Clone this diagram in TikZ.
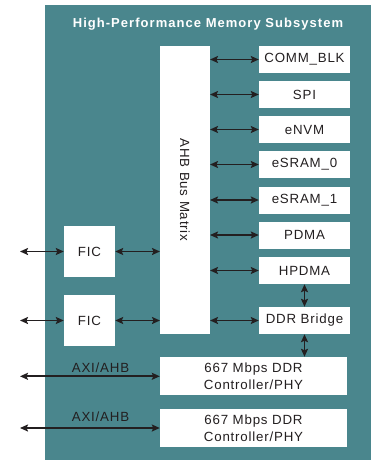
\documentclass[tikz,border=0pt]{standalone}
\usepackage{fontspec}
\setmainfont{Liberation Sans}[LetterSpace=6]
\newfontfamily\titlefont{Liberation Sans}[LetterSpace=8]
\usetikzlibrary{arrows.meta}
\definecolor{teal}{RGB}{74,134,141}
\definecolor{ink}{RGB}{35,31,32}
\begin{document}
\begin{tikzpicture}[x=1pt,y=-1pt,
  blk/.style={fill=white,draw=none,inner sep=0pt,text=ink,font=\fontsize{13.3}{16.5}\selectfont,align=center},
  link/.style={draw=ink,line width=1.7pt,{Stealth[length=8pt,width=7pt,inset=1.5pt]}-{Stealth[length=8pt,width=7pt,inset=1.5pt]}},
  lbl/.style={text=ink,font=\fontsize{13.3}{16}\selectfont,inner sep=0pt}]
\useasboundingbox (0,0) rectangle (374,460);
\fill[teal] (45,5) rectangle (371,460);
\node[text=white,font=\titlefont\bfseries\fontsize{13}{14}\selectfont] (title) at (208,24.5) {High-Performance Memory Subsystem};
% bus matrix
\node[blk,minimum width=50pt,minimum height=288pt] (bus) at (185,190) {};
\node[lbl,rotate=-90] (buslbl) at (bus.center) {AHB Bus Matrix};
% right blocks
\foreach \n/\t/\y in {comm/COMM\_BLK/59.5, spi/SPI/94.5, envm/eNVM/129.5, sram0/eSRAM\_0/164.5, sram1/eSRAM\_1/200, pdma/PDMA/235, hpdma/HPDMA/270.5, ddrb/DDR Bridge/320.5}{
  \node[blk,minimum width=91pt,minimum height=27pt] (\n) at (304.5,\y) {\t};
  \coordinate (b\n) at (210,\y);
  \draw[link] (b\n) -- (\n.west);
}
% FIC blocks
\node[blk,minimum width=51pt,minimum height=51pt] (fic1) at (89.5,251.5) {FIC};
\node[blk,minimum width=51pt,minimum height=51pt] (fic2) at (89.5,320.5) {FIC};
\coordinate (f1l) at (20,251.5);
\coordinate (f1r) at (160,251.5);
\coordinate (f2l) at (20,320.5);
\coordinate (f2r) at (160,320.5);
\draw[link] (f1l) -- (fic1.west);
\draw[link] (fic1.east) -- (f1r);
\draw[link] (f2l) -- (fic2.west);
\draw[link] (fic2.east) -- (f2r);
% DDR controllers
\node[blk,minimum width=187pt,minimum height=38pt] (ddr1) at (253.5,376) {667 Mbps DDR\\Controller/PHY};
\node[blk,minimum width=187pt,minimum height=38pt] (ddr2) at (253.5,428) {667 Mbps DDR\\Controller/PHY};
\coordinate (a1) at (20,376.3);
\coordinate (a2) at (20,428);
\draw[link] (a1) -- (a1 -| ddr1.west);
\draw[link] (a2) -- (a2 -| ddr2.west);
\node[lbl] (axi1) at (100.5,368) {AXI/AHB};
\node[lbl] (axi2) at (100.5,417) {AXI/AHB};
% vertical links
\draw[link] (hpdma.south) -- (ddrb.north);
\draw[link] (ddrb.south) -- (ddrb.south |- ddr1.north);
\end{tikzpicture}
\end{document}
